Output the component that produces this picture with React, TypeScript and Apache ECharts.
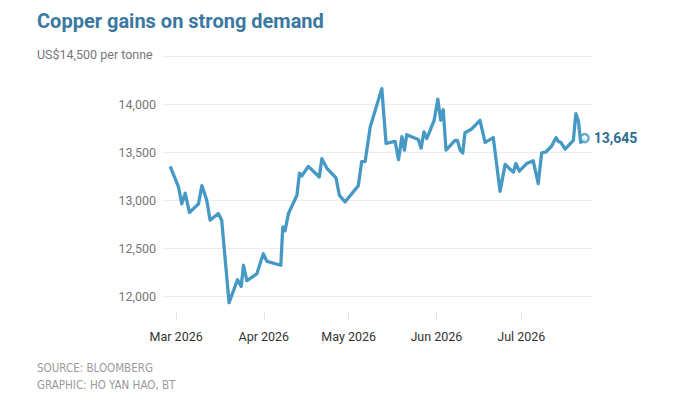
import React, { useEffect, useRef } from "react";
import * as echarts from "echarts";

// Trading days, counted from 1 March 2026
const dayOffsets = [
  -2.1, 0.8, 2.0, 3.2, 4.7, 7.9, 9.1, 10.8, 12.0, 14.9, 16.1, 18.7, 21.7, 23.0, 23.8, 25.0,
  28.5, 30.8, 32.1, 37.0, 37.7, 38.5, 39.7, 42.7, 43.6, 44.4, 46.7, 50.6, 51.5, 53.3, 56.5,
  57.7, 59.7, 64.4, 65.6, 66.8, 68.6, 72.7, 74.2, 77.4, 78.6, 79.8, 80.7, 81.5, 85.6, 86.6,
  87.6, 88.6, 91.2, 92.5, 93.5, 94.4, 95.4, 98.6, 99.4, 100.4, 101.3, 102.1, 104.5, 107.4,
  109.2, 112.1, 114.5, 116.3, 119.2, 120.1, 121.3, 123.9, 126.2, 128.0, 129.2, 130.7, 132.7,
  134.3, 135.1, 136.0, 137.5, 140.4, 141.3, 142.2, 143.0, 144.4,
];

// Copper price, US$ per tonne
const prices = [
  13350, 13140, 12960, 13070, 12870, 12960, 13150, 13000, 12790, 12860, 12790, 11930, 12170,
  12100, 12320, 12160, 12230, 12440, 12360, 12320, 12720, 12680, 12860, 13050, 13280, 13250,
  13350, 13240, 13430, 13330, 13230, 13050, 12980, 13150, 13400, 13400, 13760, 14160, 13590,
  13610, 13420, 13660, 13520, 13680, 13630, 13540, 13710, 13640, 13830, 14050, 13830, 13940,
  13520, 13620, 13620, 13520, 13490, 13700, 13740, 13830, 13600, 13650, 13090, 13370, 13290,
  13380, 13300, 13380, 13410, 13170, 13490, 13500, 13560, 13650, 13610, 13600, 13530, 13620,
  13900, 13820, 13600, 13645,
];

// Month starts on the day scale and their labels
const monthStarts = [0, 31, 61, 92, 122];
const monthLabels = ["Mar 2026", "Apr 2026", "May 2026", "Jun 2026", "Jul 2026"];

// Labelled price levels
const yTicks = [12000, 12500, 13000, 13500, 14000];

const TITLE = "Copper gains on strong demand";
const UNIT_LABEL = "US$14,500 per tonne";
const SOURCE_LINES = ["SOURCE: BLOOMBERG", "GRAPHIC: HO YAN HAO, BT"];

const LINE_COLOR = "#4699c4";
const GRID_COLOR = "#ececec";

const fmt = (v: number) => v.toLocaleString("en-US");

export default function App() {
  const ref = useRef<HTMLDivElement>(null);

  useEffect(() => {
    if (!ref.current) return;
    const chart = echarts.init(ref.current, undefined, { renderer: "svg" });

    const points = dayOffsets.map((d, i) => [d, prices[i]]);
    const last = points[points.length - 1];

    chart.setOption({
      animation: false,
      backgroundColor: "#ffffff",
      textStyle: { fontFamily: "Roboto, 'Noto Sans', sans-serif" },
      grid: { left: 162, right: 108, top: 56, bottom: 85, containLabel: false },
      xAxis: {
        type: "value",
        min: -5,
        max: 147,
        axisLine: { show: false },
        splitLine: { show: false },
        axisTick: {
          show: true,
          inside: true,
          customValues: monthStarts,
          length: 8,
          lineStyle: { color: "#e6e6e6" },
        },
        axisLabel: {
          customValues: monthStarts,
          formatter: (v: number) => {
            const i = monthStarts.indexOf(Math.round(v));
            return i >= 0 ? monthLabels[i] : "";
          },
          color: "#333333",
          fontSize: 12.5,
          margin: 10,
        },
      },
      yAxis: {
        type: "value",
        min: 11750,
        max: 14500,
        interval: 250,
        axisLine: { show: false },
        axisTick: { show: false },
        axisLabel: {
          formatter: (v: number) => (yTicks.includes(v) ? fmt(v) : ""),
          color: "#777777",
          fontSize: 12.5,
          margin: 6,
        },
        splitLine: {
          show: true,
          // every other split line (the 500 steps) is visible
          lineStyle: { color: ["rgba(0,0,0,0)", GRID_COLOR], width: 1 },
        },
      },
      series: [
        {
          type: "line",
          data: points,
          showSymbol: false,
          lineStyle: { color: LINE_COLOR, width: 3.3, join: "round" },
          itemStyle: { color: LINE_COLOR },
          endLabel: {
            show: true,
            distance: 9,
            formatter: (p: any) => fmt(p.value[1]),
            color: "#2f6e93",
            fontWeight: "bold",
            fontSize: 14,
          },
          z: 2,
        },
        {
          type: "scatter",
          data: [last],
          symbol: "circle",
          symbolSize: 8,
          itemStyle: { color: "#ffffff", borderColor: LINE_COLOR, borderWidth: 2.5 },
          z: 3,
        },
      ],
      graphic: [
        {
          type: "text",
          left: 37,
          top: 11,
          style: {
            text: TITLE,
            fill: "#3a78a2",
            font: "bold 20px Roboto, 'Noto Sans', sans-serif",
          },
        },
        {
          type: "text",
          left: 37,
          top: 48,
          style: {
            text: UNIT_LABEL,
            fill: "#777777",
            font: "12.5px Roboto, 'Noto Sans', sans-serif",
          },
        },
        {
          type: "text",
          left: 37,
          top: 359,
          style: {
            text: SOURCE_LINES.join("\n"),
            fill: "#9a9a9a",
            lineHeight: 17,
            font: "11.5px 'Liberation Sans Narrow', 'DejaVu Sans Condensed', Roboto, sans-serif",
          },
        },
      ],
    });

    return () => chart.dispose();
  }, []);

  return (
    <div
      ref={ref}
      style={{ position: "absolute", left: 0, top: 0, width: 700, height: 405 }}
    />
  );
}
